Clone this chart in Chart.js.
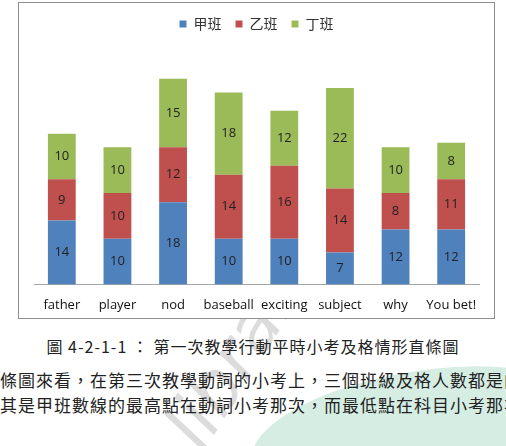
<!DOCTYPE html>
<html lang="zh-Hant">
<head>
<meta charset="UTF-8">
<title>第一次教學行動平時小考及格情形直條圖</title>
<script src="https://cdn.jsdelivr.net/npm/chart.js"></script>
<style>
    body { margin: 0; background: #fff; width: 506px; height: 446px; overflow: hidden; position: relative; font-family: "Noto Sans CJK TC", sans-serif; }
    .chart-box { position: absolute; left: 18px; top: 2px; width: 475px; height: 315px; border: 1px solid #8e8e8e; background: #fff; }
    .wm-shape { position: absolute; left: 250px; top: 372px; width: 330px; height: 120px; background: #d6ede4; border-radius: 50%; transform: rotate(-10deg); }
    .wm-text { position: absolute; left: 170px; top: 340px; font: italic 70px "DejaVu Sans", sans-serif; color: #dcdcdc; transform: rotate(-58deg); transform-origin: 60px 60px; }
    .caption { position: absolute; left: 0; width: 506px; top: 334px; text-align: center; font-size: 16px; color: #222; letter-spacing: 1px; }
    .para { position: absolute; left: 0; white-space: nowrap; font-size: 17px; color: #222; letter-spacing: 1px; }
</style>
</head>
<body>
<div class="wm-shape"></div>
<div class="wm-text">library</div>
<div class="chart-box"><canvas id="grafico"></canvas></div>
<div class="caption">圖 4-2-1-1 ： 第一次教學行動平時小考及格情形直條圖</div>
<div class="para" style="top:367px;">條圖來看，在第三次教學動詞的小考上，三個班級及格人數都是向</div>
<div class="para" style="top:392px;">其是甲班數線的最高點在動詞小考那次，而最低點在科目小考那次</div>

<script>
    // datos
    const categorias = ["father", "player", "nod", "baseball", "exciting", "subject", "why", "You bet!"];
    const clases = ["甲班", "乙班", "丁班"];
    const jia = [14, 10, 18, 10, 10, 7, 12, 12];
    const yi = [9, 10, 12, 14, 16, 14, 8, 11];
    const ding = [10, 10, 15, 18, 12, 22, 10, 8];
    const colores = ["#4F81BD", "#C0504D", "#9BBB59"];

    // etiquetas dentro de cada segmento
    const etiquetas = {
        id: 'etiquetas',
        afterDatasetsDraw(chart) {
            const ctx = chart.ctx;
            ctx.save();
            ctx.font = '13px "Open Sans", sans-serif';
            ctx.fillStyle = '#222';
            ctx.textAlign = 'center';
            ctx.textBaseline = 'middle';
            chart.data.datasets.forEach((ds, i) => {
                chart.getDatasetMeta(i).data.forEach((bar, j) => {
                    const mid = (bar.y + bar.base) / 2;
                    ctx.fillText(ds.data[j], bar.x, mid);
                });
            });
            ctx.restore();
        }
    };

    // espacio extra debajo de la leyenda
    const espacioLeyenda = {
        id: 'espacioLeyenda',
        beforeInit(chart) {
            const fitOrig = chart.legend.fit;
            chart.legend.fit = function () {
                fitOrig.bind(chart.legend)();
                this.height += 15;
            };
        }
    };

    new Chart(document.getElementById("grafico"), {
        type: 'bar',
        data: {
            labels: categorias,
            datasets: [
                { label: clases[0], data: jia, backgroundColor: colores[0] },
                { label: clases[1], data: yi, backgroundColor: colores[1] },
                { label: clases[2], data: ding, backgroundColor: colores[2] }
            ]
        },
        options: {
            responsive: true,
            maintainAspectRatio: false,
            animation: false,
            categoryPercentage: 1,
            barPercentage: 0.5,
            layout: { padding: { left: 15, right: 15, top: 0, bottom: 0 } },
            plugins: {
                tooltip: { enabled: false },
                legend: {
                    position: 'top',
                    labels: {
                        boxWidth: 7,
                        boxHeight: 7,
                        padding: 14,
                        color: '#333',
                        font: { size: 14, family: '"Noto Sans CJK TC", sans-serif' }
                    }
                }
            },
            scales: {
                x: {
                    stacked: true,
                    grid: { display: false },
                    border: { color: '#a6a6a6' },
                    ticks: {
                        color: '#111',
                        padding: 5,
                        maxRotation: 0,
                        minRotation: 0,
                        autoSkip: false,
                        font: { size: 13, family: '"Open Sans", sans-serif' }
                    }
                },
                y: {
                    stacked: true,
                    display: false,
                    min: 0,
                    max: 50
                }
            }
        },
        plugins: [etiquetas, espacioLeyenda]
    });
</script>
</body>
</html>
